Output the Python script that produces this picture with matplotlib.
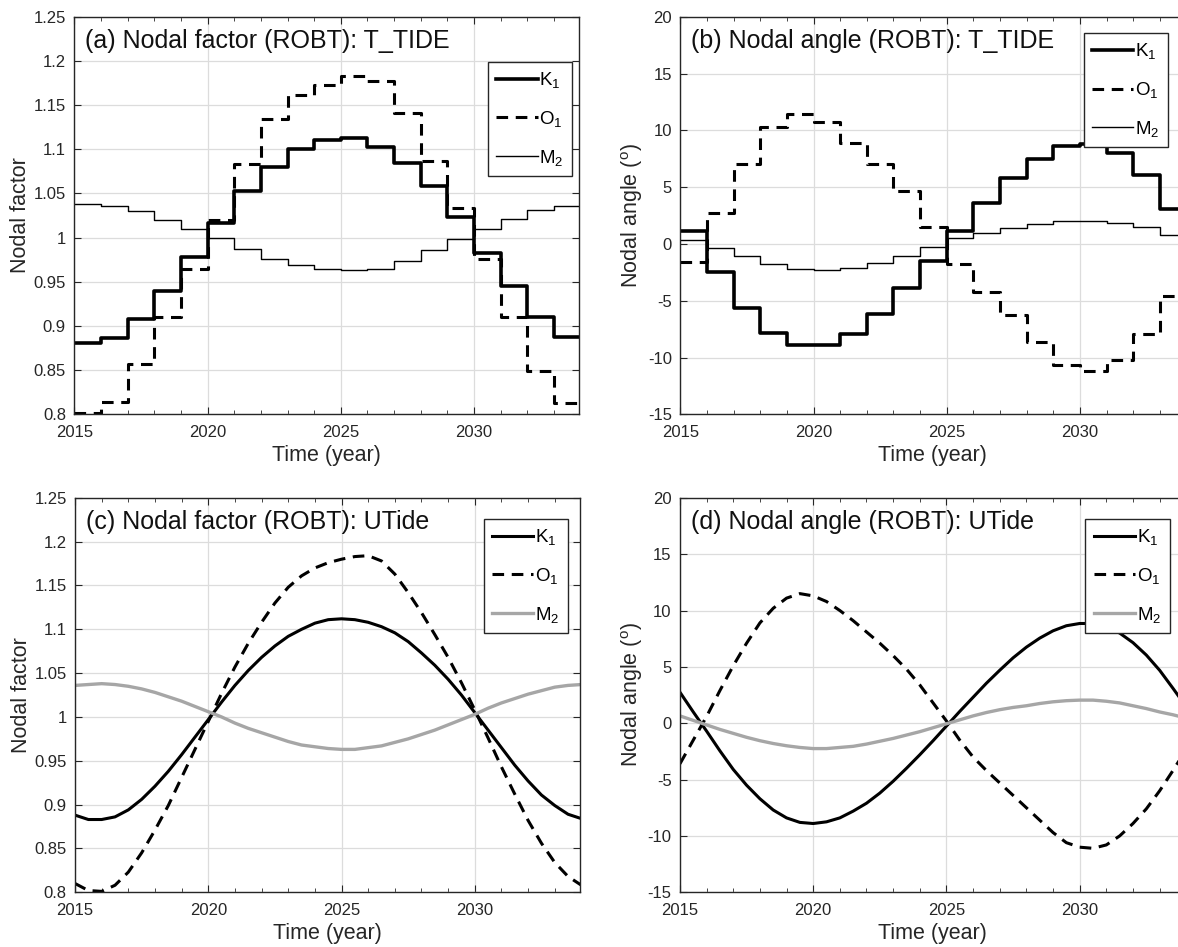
import numpy as np
import matplotlib
matplotlib.use('Agg')
from matplotlib import pyplot as plt
from matplotlib.ticker import MultipleLocator

plt.rcParams['font.family'] = ['Liberation Sans', 'DejaVu Sans']
plt.rcParams['mathtext.fontset'] = 'custom'
plt.rcParams['mathtext.rm'] = 'Liberation Sans'
plt.rcParams['mathtext.it'] = 'Liberation Sans:italic'

# yearly values (T_TIDE, one value per year starting at that year)
years = np.arange(2015, 2034)
k1_f_ttide = [0.881, 0.886, 0.908, 0.940, 0.978, 1.017, 1.053, 1.080, 1.100, 1.111,
              1.113, 1.103, 1.085, 1.058, 1.023, 0.983, 0.945, 0.910, 0.888]
o1_f_ttide = [0.801, 0.814, 0.857, 0.910, 0.965, 1.020, 1.083, 1.134, 1.161, 1.173,
              1.183, 1.177, 1.141, 1.087, 1.033, 0.976, 0.910, 0.849, 0.813]
m2_f_ttide = [1.038, 1.036, 1.030, 1.020, 1.010, 1.000, 0.987, 0.976, 0.969, 0.965,
              0.963, 0.965, 0.974, 0.986, 0.998, 1.010, 1.021, 1.031, 1.036]
k1_u_ttide = [1.1, -2.5, -5.6, -7.8, -8.9, -8.9, -7.9, -6.2, -3.9, -1.5,
              1.15, 3.6, 5.8, 7.5, 8.6, 8.8, 8.0, 6.1, 3.1]
o1_u_ttide = [-1.6, 2.75, 7.0, 10.3, 11.4, 10.7, 8.9, 7.0, 4.7, 1.5,
              -1.75, -4.2, -6.3, -8.6, -10.65, -11.15, -10.2, -7.9, -4.6]
m2_u_ttide = [0.35, -0.4, -1.1, -1.75, -2.2, -2.3, -2.15, -1.7, -1.05, -0.25,
              0.5, 1.0, 1.4, 1.75, 2.0, 2.05, 1.85, 1.45, 0.8]

# UTide, every half year
t_ut = np.arange(2015, 2034.01, 0.5)
k1_f_ut = [0.888, 0.883, 0.883, 0.886, 0.894, 0.906, 0.921, 0.938, 0.957, 0.977,
           0.997, 1.017, 1.036, 1.053, 1.068, 1.081, 1.092, 1.100, 1.107, 1.111,
           1.112, 1.111, 1.108, 1.103, 1.096, 1.086, 1.073, 1.059, 1.043, 1.025,
           1.005, 0.985, 0.965, 0.945, 0.927, 0.911, 0.899, 0.889, 0.884]
o1_f_ut = [0.810, 0.802, 0.801, 0.808, 0.823, 0.845, 0.871, 0.899, 0.931, 0.963,
           0.995, 1.027, 1.057, 1.084, 1.108, 1.130, 1.148, 1.161, 1.170, 1.176,
           1.180, 1.183, 1.184, 1.178, 1.163, 1.142, 1.119, 1.094, 1.068, 1.039,
           1.008, 0.976, 0.943, 0.912, 0.882, 0.856, 0.834, 0.818, 0.808]
m2_f_ut = [1.036, 1.037, 1.038, 1.037, 1.035, 1.032, 1.028, 1.023, 1.018, 1.012,
           1.006, 1.000, 0.993, 0.987, 0.982, 0.977, 0.972, 0.968, 0.966, 0.964,
           0.963, 0.963, 0.965, 0.967, 0.971, 0.975, 0.980, 0.985, 0.991, 0.997,
           1.003, 1.010, 1.016, 1.021, 1.026, 1.030, 1.034, 1.036, 1.037]
k1_u_ut = [2.75, 1.0, -0.7, -2.45, -4.1, -5.5, -6.7, -7.7, -8.4, -8.8,
           -8.9, -8.75, -8.4, -7.8, -7.1, -6.2, -5.15, -4.0, -2.8, -1.55,
           -0.25, 1.05, 2.3, 3.55, 4.7, 5.8, 6.75, 7.55, 8.2, 8.65,
           8.85, 8.85, 8.55, 8.0, 7.15, 6.05, 4.7, 3.1, 1.45]
o1_u_ut = [-3.6, -1.5, 0.6, 2.9, 5.1, 7.1, 8.9, 10.2, 11.1, 11.5,
           11.3, 10.8, 10.0, 9.1, 8.1, 7.1, 6.0, 4.8, 3.4, 1.8,
           0.2, -1.5, -3.0, -4.2, -5.3, -6.4, -7.5, -8.6, -9.7, -10.6,
           -11.0, -11.1, -10.8, -10.0, -8.9, -7.6, -6.0, -4.2, -2.3]
m2_u_ut = [0.65, 0.25, -0.15, -0.55, -0.9, -1.25, -1.55, -1.8, -2.0, -2.15,
           -2.25, -2.25, -2.15, -2.05, -1.85, -1.6, -1.35, -1.05, -0.75, -0.4,
           -0.05, 0.3, 0.65, 0.95, 1.2, 1.4, 1.55, 1.75, 1.9, 2.0,
           2.05, 2.05, 1.95, 1.8, 1.55, 1.3, 1.0, 0.75, 0.45]

f_ticks = [0.8, 0.85, 0.9, 0.95, 1.0, 1.05, 1.1, 1.15, 1.2, 1.25]
f_labels = ['0.8', '0.85', '0.9', '0.95', '1', '1.05', '1.1', '1.15', '1.2', '1.25']
u_ticks = [-15, -10, -5, 0, 5, 10, 15, 20]
u_labels = ['-15', '-10', '-5', '0', '5', '10', '15', '20']
x_ticks = [2015, 2020, 2025, 2030]

fig = plt.figure(figsize=(11.78, 9.47), dpi=100)
ax_a = fig.add_axes([0.0631, 0.5625, 0.4287, 0.4198])
ax_b = fig.add_axes([0.5775, 0.5625, 0.4287, 0.4198])
ax_c = fig.add_axes([0.0637, 0.0578, 0.4287, 0.4165])
ax_d = fig.add_axes([0.5772, 0.0578, 0.4287, 0.4165])

dash = (3.8, 2.5)
gray = '#a6a6a6'


def stepline(ax, vals, **kw):
    ax.step(np.append(years, 2034), np.append(vals, vals[-1]), where='post', **kw)


stepline(ax_a, k1_f_ttide, color='k', lw=2.6, label='K$_1$')
stepline(ax_a, o1_f_ttide, color='k', lw=2.2, dashes=dash, label='O$_1$')
stepline(ax_a, m2_f_ttide, color='k', lw=1.0, label='M$_2$')

stepline(ax_b, k1_u_ttide, color='k', lw=2.6, label='K$_1$')
stepline(ax_b, o1_u_ttide, color='k', lw=2.2, dashes=dash, label='O$_1$')
stepline(ax_b, m2_u_ttide, color='k', lw=1.0, label='M$_2$')

ax_c.plot(t_ut, k1_f_ut, color='k', lw=2.2, label='K$_1$')
ax_c.plot(t_ut, o1_f_ut, color='k', lw=2.2, dashes=dash, label='O$_1$')
ax_c.plot(t_ut, m2_f_ut, color=gray, lw=2.4, label='M$_2$')

ax_d.plot(t_ut, k1_u_ut, color='k', lw=2.2, label='K$_1$')
ax_d.plot(t_ut, o1_u_ut, color='k', lw=2.2, dashes=dash, label='O$_1$')
ax_d.plot(t_ut, m2_u_ut, color=gray, lw=2.4, label='M$_2$')

titles = ['(a) Nodal factor (ROBT): T_TIDE', '(b) Nodal angle (ROBT): T_TIDE',
          '(c) Nodal factor (ROBT): UTide', '(d) Nodal angle (ROBT): UTide']
leg_anchor = [(0.986, 0.887), (0.966, 0.959), (0.976, 0.947), (0.970, 0.947)]

for i, ax in enumerate([ax_a, ax_b, ax_c, ax_d]):
    ax.set_xlim(2015, 2033.95)
    ax.set_xticks(x_ticks)
    ax.set_xticklabels([str(x) for x in x_ticks])
    ax.xaxis.set_minor_locator(MultipleLocator(1))
    if i % 2 == 0:
        ax.set_ylim(0.8, 1.25)
        ax.set_yticks(f_ticks)
        ax.set_yticklabels(f_labels)
        ax.set_ylabel('Nodal factor', fontsize=15.5, color='#262626', labelpad=2)
    else:
        ax.set_ylim(-15, 20)
        ax.set_yticks(u_ticks)
        ax.set_yticklabels(u_labels)
        ax.set_ylabel('Nodal angle ($^\\mathrm{o}$)', fontsize=15.5, color='#262626', labelpad=2)
    ax.set_xlabel('Time (year)', fontsize=15.5, color='#262626', labelpad=3)
    ax.grid(True, which='major', color='#dcdcdc', lw=0.9)
    ax.set_axisbelow(True)
    ax.tick_params(which='both', direction='in', top=True, right=True,
                   labelsize=12, colors='#262626')
    ax.tick_params(axis='x', which='major', pad=8)
    ax.tick_params(axis='y', which='major', pad=6)
    ax.tick_params(which='major', length=5)
    ax.tick_params(which='minor', length=3)
    for s in ax.spines.values():
        s.set_color('#262626')
        s.set_linewidth(1.0)
    ax.text(0.021, 0.968, titles[i], transform=ax.transAxes, fontsize=18,
            va='top', ha='left', color='#111111')
    leg = ax.legend(loc='upper right', bbox_to_anchor=leg_anchor[i], fontsize=13.5,
                    handlelength=2.2, handletextpad=0.1, labelspacing=1.0,
                    borderpad=0.45, borderaxespad=0, fancybox=False, framealpha=1)
    leg.get_frame().set_edgecolor('#262626')
    leg.get_frame().set_linewidth(1.0)

plt.savefig('out.png', dpi=100)
